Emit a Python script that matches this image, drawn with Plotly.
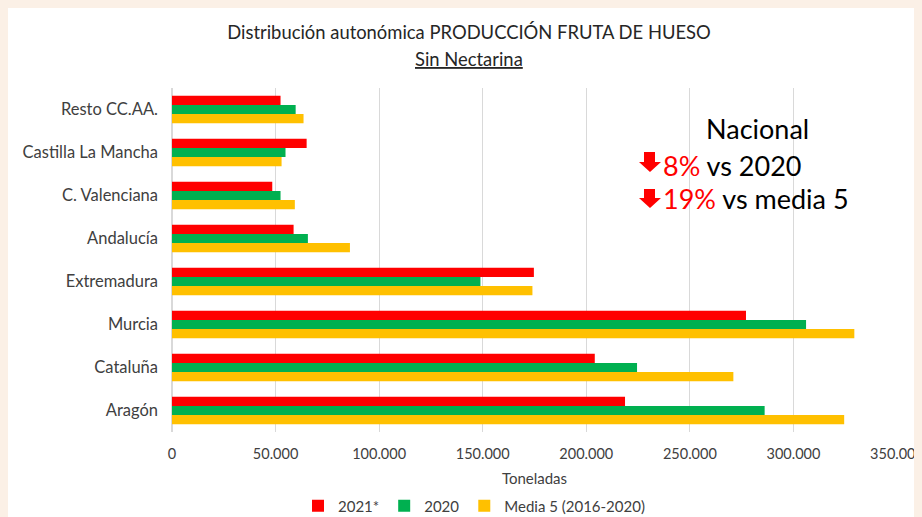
import plotly.graph_objects as go

categories = ["Aragón", "Cataluña", "Murcia", "Extremadura", "Andalucía",
              "C. Valenciana", "Castilla La Mancha", "Resto CC.AA."]
v2021 = [218700, 204100, 277100, 174700, 58700, 48400, 65000, 52400]
v2020 = [286100, 224500, 306100, 148900, 65600, 52400, 54800, 59700]
media5 = [324500, 271000, 329400, 174000, 85900, 59300, 52900, 63500]
x_ticks = [0, 50000, 100000, 150000, 200000, 250000, 300000, 350000]

FONT = "Lato"
TXT = "#404040"
BEIGE = "#FBF0E6"
OFF = 8  # browser body margin (shown beige)

fig = go.Figure()
fig.add_trace(go.Bar(y=categories, x=media5, orientation="h", name="Media 5 (2016-2020)",
                     marker=dict(color="#FFC000", line=dict(width=0))))
fig.add_trace(go.Bar(y=categories, x=v2020, orientation="h", name="2020",
                     marker=dict(color="#00B050", line=dict(width=0))))
fig.add_trace(go.Bar(y=categories, x=v2021, orientation="h", name="2021*",
                     marker=dict(color="#FF0000", line=dict(width=0))))

W, H = 922, 517
L, R, T, B = 164, 33, 80, 93
pw, ph = W - L - R, H - T - B


def px(sx):
    return (sx - OFF - L) / pw


def py(sy):
    return (H - B - (sy - OFF)) / ph


def down_arrow(xl, xr, top, head_top, tip, shaft_l, shaft_r):
    pts = [(shaft_l, top), (shaft_r, top), (shaft_r, head_top), (xr, head_top),
           ((xl + xr) / 2, tip), (xl, head_top), (shaft_l, head_top)]
    d = "M " + " L ".join(f"{px(a):.5f},{py(b):.5f}" for a, b in pts) + " Z"
    fig.add_shape(type="path", xref="paper", yref="paper", path=d,
                  fillcolor="#FF0000", line=dict(width=0))


fig.update_layout(
    width=W, height=H,
    margin=dict(l=L, r=R, t=T, b=B, autoexpand=False),
    paper_bgcolor="white", plot_bgcolor="white",
    barmode="group", bargap=0.36, bargroupgap=0,
    separators=",.",
    font=dict(family=FONT, color=TXT, size=15),
    title=dict(text="Distribución autonómica PRODUCCIÓN FRUTA DE HUESO",
               x=0.5, xref="container", xanchor="center", y=1 - (33 - OFF) / H, yanchor="middle",
               font=dict(family=FONT, size=18.4, color="#262626")),
    legend=dict(orientation="h", x=px(474), xanchor="center",
                y=py(506), yanchor="middle", traceorder="reversed",
                font=dict(family=FONT, size=15, color=TXT), itemwidth=30),
    xaxis=dict(range=[0, 350000], tickvals=x_ticks, tickformat=",d", automargin=False,
               showgrid=True, gridcolor="#D9D9D9", gridwidth=1,
               zeroline=True, zerolinecolor="#D9D9D9", showline=False,
               ticks="outside", ticklen=9, tickcolor="rgba(0,0,0,0)",
               tickfont=dict(family=FONT, size=14.5, color=TXT),
               title=dict(text="Toneladas", standoff=12,
                          font=dict(family=FONT, size=15, color=TXT))),
    yaxis=dict(showgrid=False, showline=False, ticks="", ticklabelstandoff=13,
               automargin=False,
               tickfont=dict(family=FONT, size=16.5, color=TXT)),
    showlegend=True,
)

fig.add_annotation(xref="paper", yref="paper", x=0.5 * (W - 2 * L) / pw, y=py(59),
                   text="<u>Sin Nectarina</u>", showarrow=False, xanchor="center", yanchor="middle",
                   font=dict(family=FONT, size=18.4, color="#262626"))

fig.add_annotation(xref="paper", yref="paper", x=px(757), y=py(128),
                   text="Nacional", showarrow=False, xanchor="center", yanchor="middle",
                   font=dict(family=FONT, size=27, color="black"))
fig.add_annotation(xref="paper", yref="paper", x=px(661), y=py(165),
                   text="<span style='color:#FF0000'>8%</span> vs 2020", showarrow=False,
                   xanchor="left", yanchor="middle",
                   font=dict(family=FONT, size=27, color="black"))
fig.add_annotation(xref="paper", yref="paper", x=px(661), y=py(198),
                   text="<span style='color:#FF0000'>19%</span> vs media 5", showarrow=False,
                   xanchor="left", yanchor="middle",
                   font=dict(family=FONT, size=27, color="black"))

down_arrow(639, 661, 152, 162, 172, 644, 655)
down_arrow(639, 661, 189, 198, 208, 644, 655)

fig.write_html("out.html",
               post_script="document.body.style.background='" + BEIGE + "';")
